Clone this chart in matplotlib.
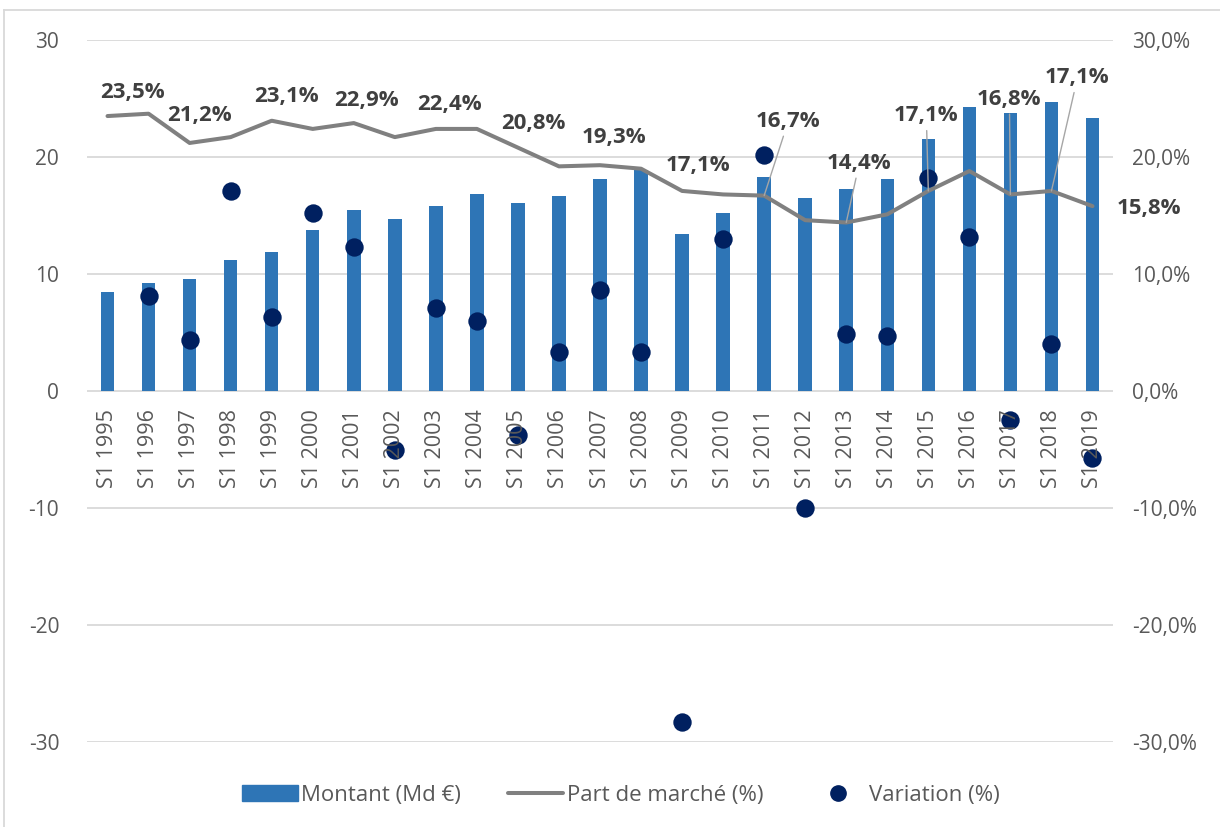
import matplotlib
matplotlib.use("Agg")

import matplotlib.pyplot as plt
from matplotlib.lines import Line2D
from matplotlib.patches import Patch


years = list(range(1995, 2020))
categories = [f"S1 {y}" for y in years]

# Montant (Md €) - left axis
montant = [8.5, 9.2, 9.6, 11.2, 11.9, 13.8, 15.5, 14.7, 15.8, 16.8,
           16.1, 16.7, 18.1, 18.9, 13.4, 15.2, 18.3, 16.5, 17.3, 18.1,
           21.5, 24.3, 23.8, 24.7, 23.3]

# Part de marché (%) - right axis
part_marche = [23.5, 23.7, 21.2, 21.7, 23.1, 22.4, 22.9, 21.7, 22.4, 22.4,
               20.8, 19.2, 19.3, 19.0, 17.1, 16.8, 16.7, 14.6, 14.4, 15.1,
               17.1, 18.8, 16.8, 17.1, 15.8]

# Variation (%) - no value for the first half-year
variation = [None, 8.1, 4.4, 17.1, 6.3, 15.2, 12.3, -5.0, 7.1, 6.0,
             -3.8, 3.3, 8.6, 3.3, -28.3, 13.0, 20.2, -10.0, 4.9, 4.7,
             18.2, 13.2, -2.5, 4.0, -5.7]

# labelled points of the market share line
label_idx = [0, 2, 4, 6, 8, 10, 12, 14, 16, 18, 20, 22, 23, 24]

left_ticks = [-30, -20, -10, 0, 10, 20, 30]
left_ticklabels = ["-30", "-20", "-10", "0", "10", "20", "30"]
right_ticklabels = ["-30,0%", "-20,0%", "-10,0%", "0,0%", "10,0%", "20,0%", "30,0%"]

BAR_COLOR = "#2E75B6"
LINE_COLOR = "#808080"
DOT_COLOR = "#002060"
TEXT_COLOR = "#595959"
LABEL_COLOR = "#404040"
GRID_COLOR = "#D9D9D9"

# label offsets in pixels (dx, dy), and whether a leader line is drawn
_OFFSETS = {
    0: (25, 24, False), 2: (10, 27, False), 4: (15, 24, False),
    6: (13, 23, False), 8: (14, 24, False), 10: (15, 24, False),
    12: (14, 28, False), 14: (16, 25, False), 16: (24, 74, True),
    18: (13, 59, True), 20: (-2, 75, True), 22: (-1, 95, True),
    23: (26, 113, True), 24: (56, -2, False),
}

plt.rcParams["font.family"] = ["Open Sans", "DejaVu Sans"]

fig = plt.figure(figsize=(12.2, 8.27), dpi=100)
ax = fig.add_axes([87 / 1220, 1 - 742 / 827, (1113 - 87) / 1220, (742 - 40) / 827])

x = list(range(len(years)))
ax.bar(x, montant, width=0.33, color=BAR_COLOR, zorder=2)
ax.plot(x, part_marche, color=LINE_COLOR, lw=2.9, solid_joinstyle="round",
        solid_capstyle="round", zorder=3)
vx = [i for i, v in zip(x, variation) if v is not None]
vy = [v for v in variation if v is not None]
ax.scatter(vx, vy, s=175, color=DOT_COLOR, zorder=4, linewidths=0)

for i in label_idx:
    dx, dy, leader = _OFFSETS[i]
    txt = f"{part_marche[i]:.1f}%".replace(".", ",")
    kw = {}
    if leader:
        kw["arrowprops"] = dict(arrowstyle="-", color="#A6A6A6", lw=1,
                                shrinkA=1, shrinkB=0)
    ax.annotate(txt, xy=(i, part_marche[i]), xytext=(dx, dy),
                textcoords="offset pixels", ha="center", va="center",
                fontsize=16, fontweight="bold", color=LABEL_COLOR,
                zorder=6, **kw)

ax.set_xlim(-0.5, len(years) - 0.5)
ax.set_ylim(-30, 30)
ax.spines["bottom"].set_position(("data", 0))
ax.set_yticks(left_ticks, labels=left_ticklabels)
ax.set_xticks(x, labels=categories)
for side in ax.spines:
    ax.spines[side].set_visible(False)
ax.grid(axis="y", color=GRID_COLOR, lw=1.3)
ax.set_axisbelow(True)
ax.xaxis.set_zorder(5)
ax.tick_params(axis="x", length=0, pad=13, labelsize=15.5, labelcolor=TEXT_COLOR,
               labelrotation=90)
ax.tick_params(axis="y", length=0, pad=20, labelsize=15, labelcolor=TEXT_COLOR)

ax2 = ax.twinx()
ax2.set_ylim(-30, 30)
ax2.set_yticks(left_ticks, labels=right_ticklabels)
for side in ax2.spines:
    ax2.spines[side].set_visible(False)
ax2.tick_params(axis="y", length=0, pad=14, labelsize=15, labelcolor=TEXT_COLOR)

handles = [
    Patch(color=BAR_COLOR, label="Montant (Md €)"),
    Line2D([], [], color=LINE_COLOR, lw=2.9, solid_capstyle="round",
           label="Part de marché (%)"),
    Line2D([], [], ls="none", marker="o", ms=11, color=DOT_COLOR,
           label="Variation (%)"),
]
fig.legend(handles=handles, loc="center", bbox_to_anchor=(621 / 1220, 1 - 795 / 827),
           ncol=3, frameon=False, fontsize=16, labelcolor=TEXT_COLOR,
           handlelength=2.5, handletextpad=0.15, columnspacing=2.1)

# chart frame
fig.add_artist(Line2D([4 / 1220, 4 / 1220], [0, 1 - 10 / 827],
                      color=GRID_COLOR, lw=1.3))
fig.add_artist(Line2D([4 / 1220, 1], [1 - 10 / 827, 1 - 10 / 827],
                      color=GRID_COLOR, lw=1.3))

fig.savefig("out.png", dpi=100)
plt.close(fig)
